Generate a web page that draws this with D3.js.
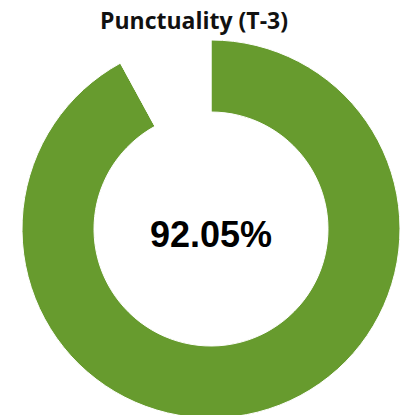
<!DOCTYPE html>
<html lang="en">
<head>
    <meta charset="UTF-8">
    <title>Punctuality (T-3)</title>
    <script src="https://d3js.org/d3.v7.min.js"></script>
    <style>
        body { margin: 0; background: #fff; }
    </style>
</head>
<body>
    <script>
        const categories = ["On time", "Late"];
        const values = [92.05, 7.95];
        const colors = ["#679b2e", "#ffffff"];
        const title = "Punctuality (T-3)";
        const centerLabel = "92.05%";

        const w = 401;
        const h = 415;
        const cx = 211, cy = 229;
        const outerR = 189, innerR = 117;

        const svg = d3.select("body")
            .append("svg")
            .attr("width", w)
            .attr("height", h);

        svg.append("text")
            .attr("x", 194)
            .attr("y", 29)
            .attr("text-anchor", "middle")
            .style("font-family", "'Open Sans', sans-serif")
            .style("font-weight", "bold")
            .style("font-size", "23px")
            .style("fill", "#111")
            .text(title);

        const pie = d3.pie().sort(null).value((d) => d);
        const arc = d3.arc().innerRadius(innerR).outerRadius(outerR);

        const g = svg.append("g")
            .attr("transform", "translate(" + cx + "," + cy + ")");

        g.selectAll("path")
            .data(pie(values))
            .enter()
            .append("path")
            .attr("d", arc)
            .attr("fill", (d, i) => colors[i])
            .attr("stroke", "#fff")
            .attr("stroke-width", 1)
            .append("title")
            .text((d, i) => categories[i] + ": " + values[i] + "%");

        svg.append("text")
            .attr("x", cx)
            .attr("y", 247)
            .attr("text-anchor", "middle")
            .style("font-family", "'Liberation Sans', Arial, sans-serif")
            .style("font-weight", "bold")
            .style("font-size", "36px")
            .style("fill", "#000")
            .text(centerLabel);
    </script>
</body>
</html>
